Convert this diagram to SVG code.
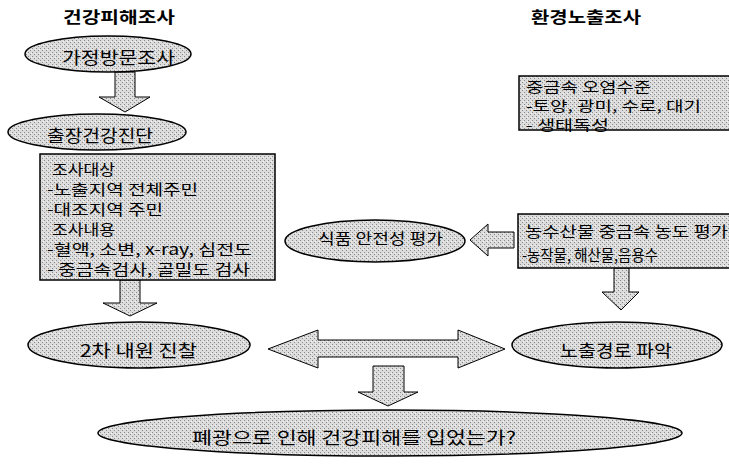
<svg xmlns="http://www.w3.org/2000/svg" width="729" height="464" viewBox="0 0 729 464">
<defs>
<pattern id="dots" width="4" height="4" patternUnits="userSpaceOnUse">
<rect width="4" height="4" fill="#dcdcdc"/>
<rect x="0" y="0" width="1" height="1" fill="#8a8a8a"/>
<rect x="2" y="2" width="1" height="1" fill="#8a8a8a"/>
<rect x="3" y="1" width="1" height="1" fill="#f4f4f4"/>
</pattern>
<style>
.sh{fill:url(#dots);stroke:#000;stroke-width:1.5}
.ar{fill:url(#dots);stroke:#000;stroke-width:1}
.t{font-family:"Noto Sans CJK KR","Noto Sans",sans-serif;font-size:15px;fill:#000}
.s{font-size:14px}
.e{font-size:17px}
.h{font-family:"Noto Sans CJK KR","Noto Sans",sans-serif;font-size:16px;font-weight:bold;fill:#000}
</style>
</defs>
<rect width="729" height="464" fill="#fff"/>

<text class="h" x="63" y="23" textLength="112" lengthAdjust="spacingAndGlyphs">건강피해조사</text>
<text class="h" x="531" y="23" textLength="110" lengthAdjust="spacingAndGlyphs">환경노출조사</text>

<g id="connectors">
<polygon class="ar" points="115,72 135,72 135,97 150,97 125,112 99,97 115,97"/>
<polygon class="ar" points="120,280 140,280 140,303 157,303 130,316 103,303 120,303"/>
<polygon class="ar" points="514,232 514,248 488,248 488,256 470,240 488,224 488,232"/>
<polygon class="ar" points="614,268 629,268 629,292 639,292 621,310 602,292 614,292"/>
<polygon class="ar" points="268,349 318,330 318,340 458,340 458,330 505,349 458,368 458,357 318,357 318,368"/>
<polygon class="ar" points="373,366 404,366 404,392 418,392 388,406 358,392 373,392"/>
</g>

<g id="home-visit">
<ellipse class="sh" cx="108" cy="54" rx="83" ry="18"/>
<text class="t e" x="62" y="64" textLength="113" lengthAdjust="spacingAndGlyphs">가정방문조사</text>
</g>

<g id="checkup">
<ellipse class="sh" cx="97" cy="132" rx="89" ry="18"/>
<text class="t e" x="47" y="142" textLength="106" lengthAdjust="spacingAndGlyphs">출장건강진단</text>
</g>

<g id="survey-box">
<rect class="sh" x="40" y="154" width="235" height="126"/>
<text class="t" x="52" y="175" textLength="63" lengthAdjust="spacingAndGlyphs">조사대상</text>
<text class="t" x="47" y="195" textLength="151" lengthAdjust="spacingAndGlyphs">-노출지역 전체주민</text>
<text class="t" x="47" y="215" textLength="116" lengthAdjust="spacingAndGlyphs">-대조지역 주민</text>
<text class="t" x="52" y="235" textLength="63" lengthAdjust="spacingAndGlyphs">조사내용</text>
<text class="t" x="47" y="255" textLength="205" lengthAdjust="spacingAndGlyphs">-혈액, 소변, x-ray, 심전도</text>
<text class="t" x="47" y="275" textLength="203" lengthAdjust="spacingAndGlyphs">- 중금속검사, 골밀도 검사</text>
</g>

<g id="food-safety">
<ellipse class="sh" cx="375" cy="241" rx="90" ry="21"/>
<text class="t" x="318" y="244" textLength="125" lengthAdjust="spacingAndGlyphs">식품 안전성 평가</text>
</g>

<g id="metal-level">
<rect class="sh" x="519" y="76" width="212" height="54"/>
<text class="t s" x="526" y="92" textLength="125" lengthAdjust="spacingAndGlyphs">중금속 오염수준</text>
<text class="t s" x="526" y="111" textLength="175" lengthAdjust="spacingAndGlyphs">-토양, 광미, 수로, 대기</text>
<text class="t s" x="526" y="130" textLength="83" lengthAdjust="spacingAndGlyphs">- 생태독성</text>
</g>

<g id="produce">
<rect class="sh" x="518" y="214" width="213" height="54"/>
<text class="t" x="525" y="237" textLength="203" lengthAdjust="spacingAndGlyphs">농수산물 중금속 농도 평가</text>
<text class="t" x="522" y="261" style="font-size:16px" textLength="136" lengthAdjust="spacingAndGlyphs">-농작물, 해산물,음용수</text>
</g>

<g id="second-visit">
<ellipse class="sh" cx="139" cy="345" rx="111" ry="23"/>
<text class="t e" x="80" y="357" textLength="117" lengthAdjust="spacingAndGlyphs">2차 내원 진찰</text>
</g>

<g id="exposure-route">
<ellipse class="sh" cx="617" cy="345" rx="105" ry="23"/>
<text class="t e" x="560" y="357" textLength="112" lengthAdjust="spacingAndGlyphs">노출경로 파악</text>
</g>

<g id="question">
<ellipse class="sh" cx="390" cy="433" rx="292" ry="23"/>
<text class="t e" x="192" y="444" textLength="324" lengthAdjust="spacingAndGlyphs">폐광으로 인해 건강피해를 입었는가?</text>
</g>
</svg>
